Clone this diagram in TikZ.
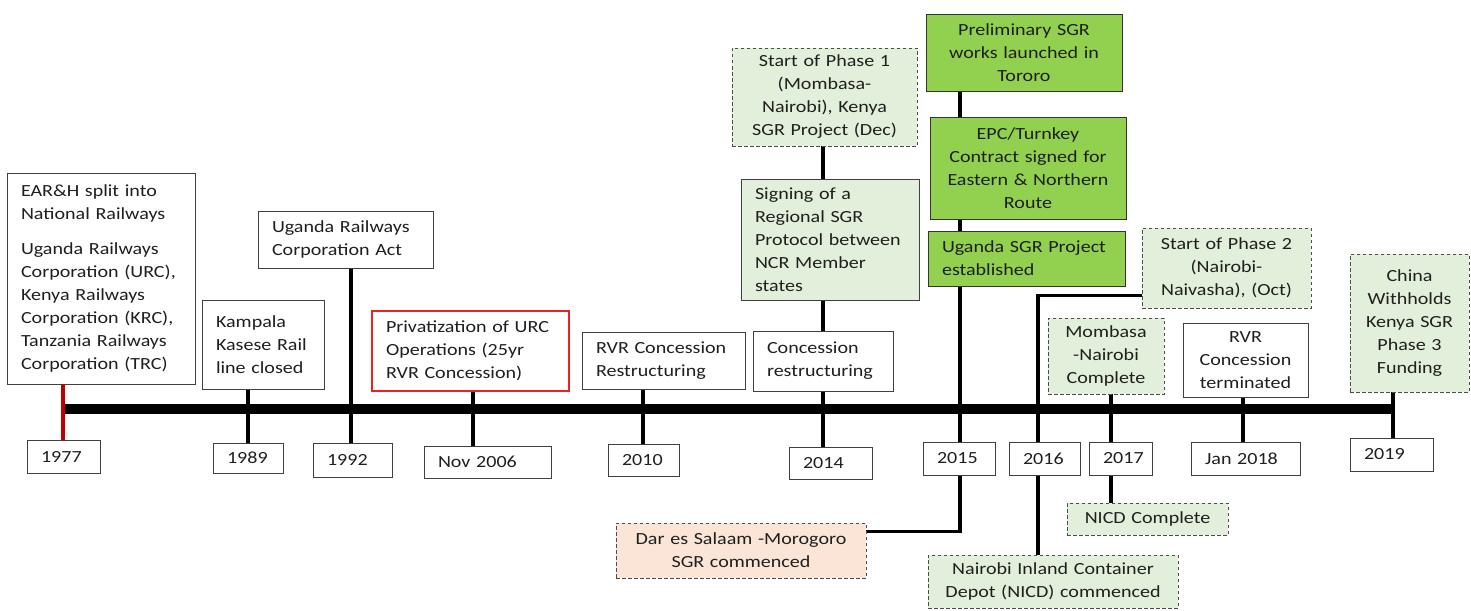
\documentclass[tikz,border=0pt]{standalone}
\usepackage{fontspec}
\setmainfont{Carlito}[FakeStretch=1.18]
\usetikzlibrary{backgrounds}
\definecolor{lgreen}{HTML}{E2EFDA}
\definecolor{bgreen}{HTML}{92D050}
\definecolor{peach}{HTML}{FBE5D6}
\definecolor{rborder}{HTML}{F02020}
\definecolor{rline}{HTML}{C00000}
\newcommand\evfont{\fontsize{17}{23}\selectfont}
\begin{document}
\begin{tikzpicture}[x=1pt,y=-1pt,
  ev/.style={draw=black!75, line width=0.9pt, fill=white, inner xsep=14pt, inner ysep=0pt,
             text=black!88, font=\evfont, anchor=center},
  lt/.style={align=left},
  ct/.style={align=center},
  dashbox/.style={ev, dash pattern=on 3.5pt off 2.5pt, draw=black!70},
  lgbox/.style={dashbox, fill=lgreen},
  gbox/.style={ev, fill=bgreen, draw=black!80},
  pbox/.style={dashbox, fill=peach},
  redbox/.style={ev, draw=rborder, line width=1.2pt},
  yr/.style={ev, align=left},
  conn/.style={line width=3.5pt, black},
  rconn/.style={line width=3.5pt, rline},
  tline/.style={line width=9.5pt, black}
]
\useasboundingbox (0,0) rectangle (1471,610);

% event boxes above the line
\node[ev, lt, minimum width=188pt, text width=160pt, minimum height=211pt] (ear) at (101,278.5)
  {EAR\&H split into\\National Railways\\[12pt]Uganda Railways\\Corporation (URC),\\Kenya Railways\\Corporation (KRC),\\Tanzania Railways\\Corporation (TRC)};
\node[ev, lt, minimum width=122pt, text width=94pt, minimum height=89pt] (kam) at (263,344.5)
  {Kampala\\Kasese Rail\\line closed};
\node[ev, lt, minimum width=175pt, text width=147pt, minimum height=57pt] (urca) at (345.5,239.5)
  {Uganda Railways\\Corporation Act};
\node[redbox, lt, minimum width=197pt, text width=169pt, minimum height=80pt] (priv) at (470.5,351)
  {Privatization of URC\\Operations (25yr\\RVR Concession)};
\node[ev, lt, minimum width=163pt, text width=135pt, minimum height=57pt] (rvrr) at (663.5,360.5)
  {RVR Concession\\Restructuring};
\node[lgbox, ct, minimum width=185pt, text width=157pt, minimum height=98pt] (ph1) at (824.5,97)
  {Start of Phase 1\\(Mombasa-\\Nairobi), Kenya\\SGR Project (Dec)};
\node[ev, lt, fill=lgreen, minimum width=178pt, text width=150pt, minimum height=121pt] (sign) at (830,239.5)
  {Signing of a\\Regional SGR\\Protocol between\\NCR Member\\states};
\node[ev, lt, minimum width=140pt, text width=112pt, minimum height=60pt] (conc) at (823,361)
  {Concession\\restructuring};
\node[gbox, ct, minimum width=196pt, text width=168pt, minimum height=77pt] (prel) at (1024,52.5)
  {Preliminary SGR\\works launched in\\Tororo};
\node[gbox, ct, minimum width=196pt, text width=168pt, minimum height=102pt] (epc) at (1028,168)
  {EPC/Turnkey\\Contract signed for\\Eastern \& Northern\\Route};
\node[gbox, lt, minimum width=197pt, text width=169pt, minimum height=55pt] (usgr) at (1026.5,258.5)
  {Uganda SGR Project\\established};
\node[lgbox, ct, minimum width=169pt, text width=141pt, minimum height=80pt] (ph2) at (1226.5,268)
  {Start of Phase 2\\(Nairobi-\\Naivasha), (Oct)};
\node[lgbox, ct, minimum width=116pt, text width=88pt, minimum height=76pt] (mom) at (1106,356)
  {Mombasa\\-Nairobi\\Complete};
\node[ev, ct, minimum width=125pt, text width=97pt, minimum height=74pt] (rvrt) at (1245.5,360)
  {RVR\\Concession\\terminated};
\node[lgbox, ct, minimum width=119pt, text width=91pt, minimum height=138pt] (china) at (1409.5,323)
  {China\\Withholds\\Kenya SGR\\Phase 3\\Funding};

% boxes below the line
\node[pbox, ct, minimum width=250pt, text width=222pt, minimum height=55pt] (dar) at (741,550.5)
  {Dar es Salaam -Morogoro\\SGR commenced};
\node[lgbox, ct, minimum width=250pt, text width=222pt, minimum height=53pt] (nicdc) at (1053,581.5)
  {Nairobi Inland Container\\Depot (NICD) commenced};
\node[lgbox, ct, minimum width=161pt, text width=133pt, minimum height=32pt] (nicdok) at (1147.5,519)
  {NICD Complete};

% year boxes
\node[yr, minimum width=73pt, text width=45pt, minimum height=33pt] (y1977) at (63.5,456.5) {1977};
\node[yr, minimum width=70pt, text width=42pt, minimum height=30pt] (y1989) at (248,458) {1989};
\node[yr, minimum width=79pt, text width=51pt, minimum height=34pt] (y1992) at (352.5,460) {1992};
\node[yr, minimum width=127pt, text width=99pt, minimum height=32pt] (y2006) at (487.5,462) {Nov 2006};
\node[yr, minimum width=71pt, text width=43pt, minimum height=32pt] (y2010) at (643.5,460) {2010};
\node[yr, minimum width=83pt, text width=55pt, minimum height=32pt] (y2014) at (830.5,463) {2014};
\node[yr, minimum width=72pt, text width=44pt, minimum height=33pt] (y2015) at (959,458.5) {2015};
\node[yr, minimum width=71pt, text width=43pt, minimum height=33pt] (y2016) at (1044.5,458.5) {2016};
\node[yr, minimum width=63pt, text width=35pt, minimum height=33pt] (y2017) at (1120.5,458.5) {2017};
\node[yr, minimum width=109pt, text width=81pt, minimum height=33pt] (yjan18) at (1245.5,458.5) {Jan 2018};
\node[yr, minimum width=83pt, text width=55pt, minimum height=33pt] (y2019) at (1391.5,454.5) {2019};

% timeline positions
\coordinate (t1977) at (63,409);
\coordinate (t0) at (65,409);
\coordinate (t1989) at (248,409);
\coordinate (t1992) at (351,409);
\coordinate (t2006) at (473,409);
\coordinate (t2010) at (643,409);
\coordinate (t2014) at (823,409);
\coordinate (t2015) at (960,409);
\coordinate (t2016) at (1038,409);
\coordinate (t2017) at (1111,409);
\coordinate (tjan18) at (1243,409);
\coordinate (t2019) at (1393,409);

\begin{pgfonlayer}{background}
\draw[tline] (t0) -- (t2019);
\draw[rconn] (ear.south -| t1977) -- (y1977.north -| t1977);
\draw[conn] (kam.south -| t1989) -- (y1989.north -| t1989);
\draw[conn] (urca.south -| t1992) -- (y1992.north -| t1992);
\draw[conn] (priv.south -| t2006) -- (y2006.north -| t2006);
\draw[conn] (rvrr.south -| t2010) -- (y2010.north -| t2010);
\draw[conn] (ph1.south -| t2014) -- (sign.north -| t2014);
\draw[conn] (sign.south -| t2014) -- (conc.north -| t2014);
\draw[conn] (conc.south -| t2014) -- (y2014.north -| t2014);
\draw[conn] (prel.south -| t2015) -- (epc.north -| t2015);
\draw[conn] (epc.south -| t2015) -- (usgr.north -| t2015);
\draw[conn] (usgr.south -| t2015) -- (y2015.north -| t2015);
\draw[conn] (y2015.south -| t2015) |- ([yshift=-9pt]dar.north east);
\draw[conn] (y2016.north -| t2016) |- ([yshift=13pt]ph2.south west);
\draw[conn] (y2016.south -| t2016) -- (nicdc.north -| t2016);
\draw[conn] (mom.south -| t2017) -- (y2017.north -| t2017);
\draw[conn] (y2017.south -| t2017) -- (nicdok.north -| t2017);
\draw[conn] (rvrt.south -| tjan18) -- (yjan18.north -| tjan18);
\draw[conn] (china.south -| t2019) -- (y2019.north -| t2019);
\end{pgfonlayer}
\end{tikzpicture}
\end{document}
